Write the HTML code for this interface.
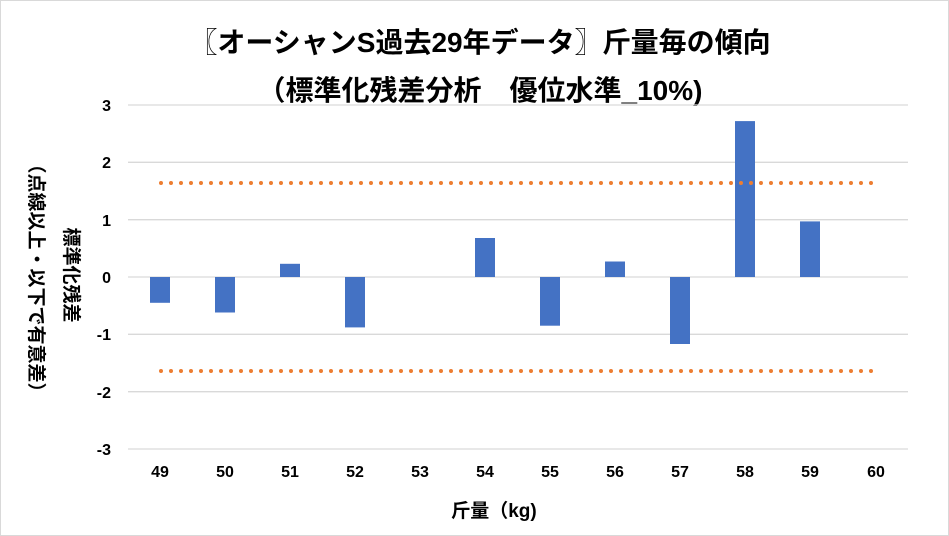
<!DOCTYPE html>
<html><head><meta charset="utf-8"><style>
body{margin:0;background:#fff}
svg{display:block}
text{font-family:"Liberation Sans","Noto Sans CJK JP",sans-serif;font-weight:bold;fill:#000}
</style></head><body>
<svg width="949" height="536" viewBox="0 0 949 536">
<rect x="0.5" y="0.5" width="948" height="535" fill="#fff" stroke="#d9d9d9"/>
<text x="480" y="52" font-size="28" text-anchor="middle">〖オーシャンS過去29年データ〗斤量毎の傾向</text>
<text x="480" y="100" font-size="28" text-anchor="middle">（標準化残差分析　優位水準_10%)</text>
<g stroke="#d9d9d9" stroke-width="1.3">
<line x1="128" x2="908" y1="105" y2="105"/><line x1="128" x2="908" y1="162.3" y2="162.3"/>
<line x1="128" x2="908" y1="219.7" y2="219.7"/><line x1="128" x2="908" y1="277" y2="277"/>
<line x1="128" x2="908" y1="334.3" y2="334.3"/><line x1="128" x2="908" y1="391.7" y2="391.7"/>
<line x1="128" x2="908" y1="449" y2="449"/>
</g>
<g font-size="16" text-anchor="end">
<text x="111" y="111">3</text><text x="111" y="168">2</text><text x="111" y="226">1</text>
<text x="111" y="283">0</text><text x="111" y="340">-1</text><text x="111" y="398">-2</text><text x="111" y="455">-3</text>
</g>
<g fill="#4472c4">
<rect x="150" y="277" width="20" height="25.8"/>
<rect x="215" y="277" width="20" height="35.5"/>
<rect x="280" y="263.8" width="20" height="13.2"/>
<rect x="345" y="277" width="20" height="50.4"/>
<rect x="475" y="238" width="20" height="39"/>
<rect x="540" y="277" width="20" height="48.7"/>
<rect x="605" y="261.5" width="20" height="15.5"/>
<rect x="670" y="277" width="20" height="67"/>
<rect x="735" y="121.1" width="20" height="155.9"/>
<rect x="800" y="221.4" width="20" height="55.6"/>
</g>
<g stroke="#ed7d31" stroke-width="4" stroke-linecap="round" stroke-dasharray="0 10">
<line x1="161" x2="876" y1="183" y2="183"/>
<line x1="161" x2="876" y1="371" y2="371"/>
</g>
<g font-size="16" text-anchor="middle">
<text x="160" y="477">49</text><text x="225" y="477">50</text><text x="290" y="477">51</text>
<text x="355" y="477">52</text><text x="420" y="477">53</text><text x="485" y="477">54</text>
<text x="550" y="477">55</text><text x="615" y="477">56</text><text x="680" y="477">57</text>
<text x="745" y="477">58</text><text x="810" y="477">59</text><text x="876" y="477">60</text>
</g>
<text x="494" y="517" font-size="19" text-anchor="middle">斤量（kg)</text>
<text transform="translate(65,275) rotate(90)" font-size="19" text-anchor="middle">標準化残差</text>
<text transform="translate(30,278) rotate(90)" font-size="19" text-anchor="middle">（点線以上・以下で有意差）</text>
</svg>
</body></html>
